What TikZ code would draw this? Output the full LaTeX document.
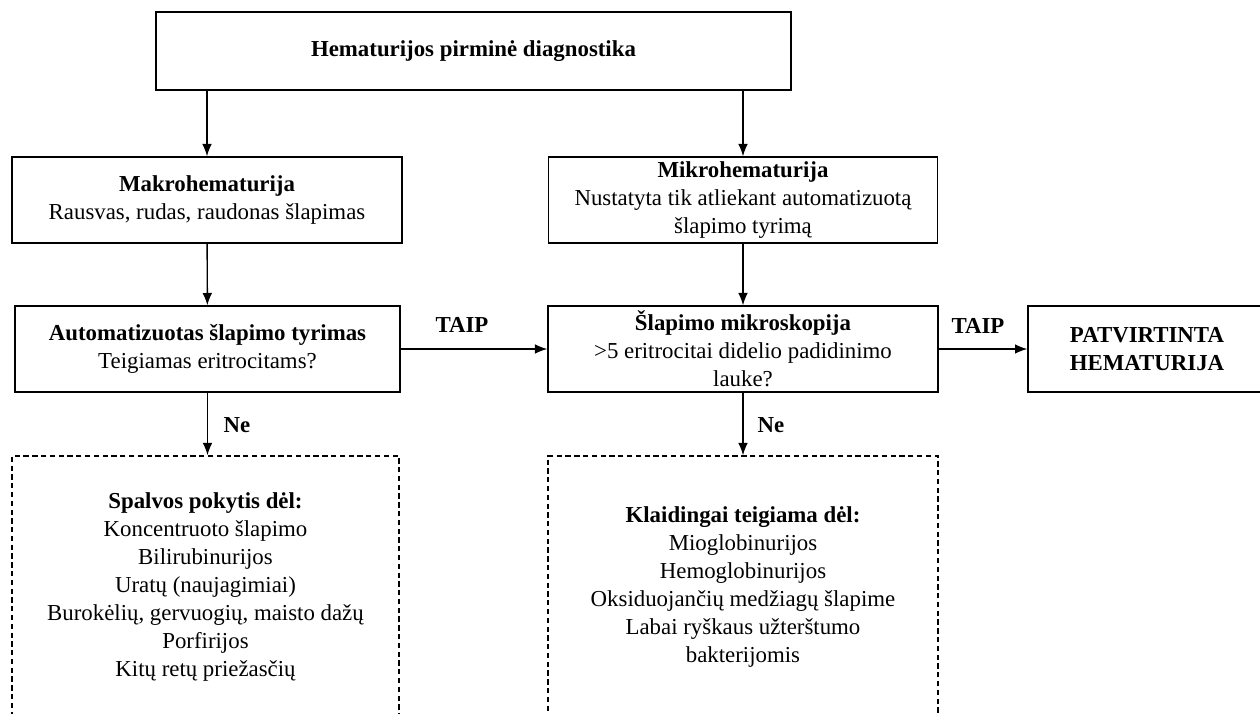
\documentclass[tikz,border=0pt]{standalone}
\usepackage{fontspec}
\setmainfont{Liberation Serif}
\usetikzlibrary{positioning,calc,arrows.meta}

\begin{document}
\begin{tikzpicture}[x=0.2mm,y=-0.2mm,
    every node/.style={font=\fontsize{13}{16}\selectfont},
    box/.style={draw,line width=0.8pt,align=center,inner sep=0pt},
    dbox/.style={box,dash pattern=on 3pt off 2pt},
    lbl/.style={font=\fontsize{13}{16}\selectfont\bfseries},
    arr/.style={-{Latex[length=7pt,width=5.5pt]},line width=0.8pt}
    ]
    \useasboundingbox (0,0) rectangle (1260,714);
    \clip (0,0) rectangle (1260,714);

    \node (top) [box,minimum width=127mm,minimum height=15.6mm] at (473.5,51) {\textbf{Hematurijos pirminė diagnostika}};
    \node (makro) [box,minimum width=78mm,minimum height=17.2mm] at (207,200) {\textbf{Makrohematurija}\\Rausvas, rudas, raudonas šlapimas};
    \node (mikro) [box,minimum width=77.8mm,minimum height=17.2mm] at (743,200) {\textbf{Mikrohematurija}\\Nustatyta tik atliekant automatizuotą\\šlapimo tyrimą};
    \node (auto) [box,minimum width=77mm,minimum height=17.2mm] at (207.5,349) {\textbf{Automatizuotas šlapimo tyrimas}\\Teigiamas eritrocitams?};
    \node (mikros) [box,minimum width=78mm,minimum height=17.2mm] at (743,349) {\textbf{Šlapimo mikroskopija}\\>5 eritrocitai didelio padidinimo\\lauke?};
    \node (patv) [box,minimum width=47.6mm,minimum height=17.2mm] at (1147,349) {\textbf{PATVIRTINTA}\\\textbf{HEMATURIJA}};
    \node (spalv) [dbox,minimum width=77.4mm,minimum height=52.4mm] at (205.5,587) {\textbf{Spalvos pokytis dėl:}\\Koncentruoto šlapimo\\Bilirubinurijos\\Uratų (naujagimiai)\\Burokėlių, gervuogių, maisto dažų\\Porfirijos\\Kitų retų priežasčių};
    \node (klaid) [dbox,minimum width=78mm,minimum height=52.4mm] at (743,587) {\textbf{Klaidingai teigiama dėl:}\\Mioglobinurijos\\Hemoglobinurijos\\Oksiduojančių medžiagų šlapime\\Labai ryškaus užterštumo\\bakterijomis};

    \node (taip1) [lbl] at (462,325) {TAIP};
    \node (taip2) [lbl] at (978,326) {TAIP};
    \node (ne1) [lbl] at (237,425) {Ne};
    \node (ne2) [lbl] at (771,425) {Ne};

    % the edges
    \draw[arr] (top.south -| makro) -- (makro.north);
    \draw[arr] (top.south -| mikro) -- (mikro.north);
    \draw[arr] (makro) -- (auto);
    \draw[arr] (mikro) -- (mikros);
    \draw[arr] (auto) -- (mikros);
    \draw[arr] (mikros) -- (patv);
    \draw[arr] (auto.south) -- (auto.south |- spalv.north);
    \draw[arr] (mikros) -- (klaid);
\end{tikzpicture}
\end{document}
